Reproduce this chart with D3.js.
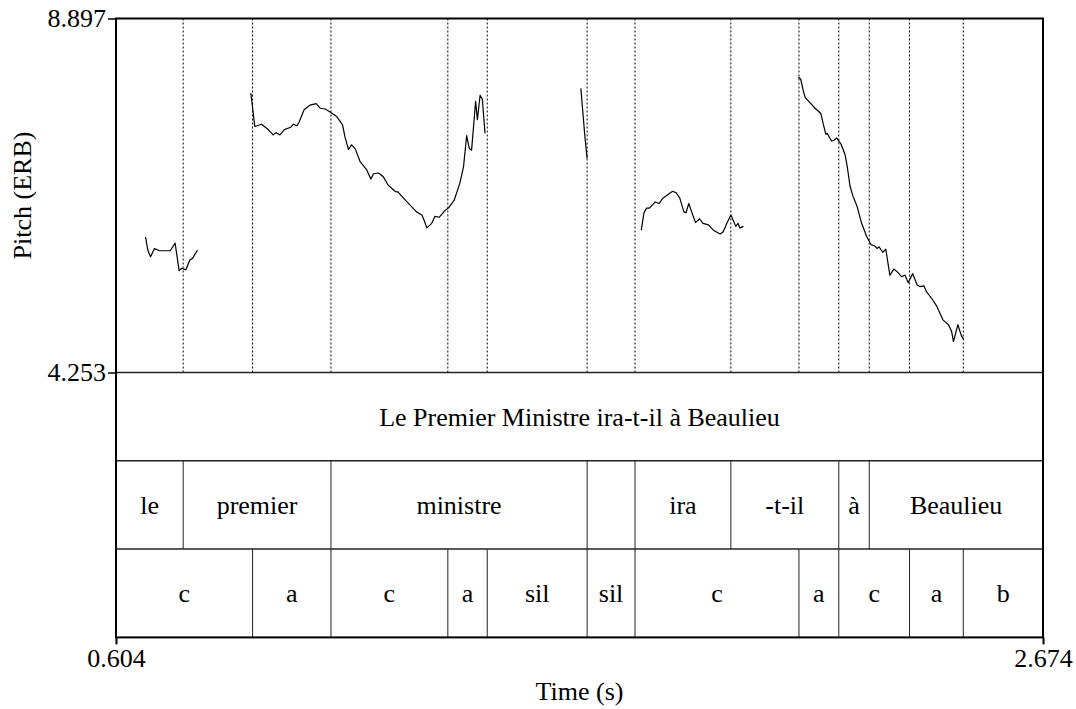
<!DOCTYPE html>
<html>
<head>
<meta charset="utf-8">
<script src="https://cdn.jsdelivr.net/npm/d3@7"></script>
<style>
  body { margin: 0; background: #fff; }
  text { font-family: "Liberation Serif", "Times New Roman", serif; fill: #000; }
</style>
</head>
<body>
<div id="chart"></div>
<script>
// time axis and pitch axis limits
var timeRange = [0.604, 2.674];
var pitchRange = [4.253, 8.897];

// pitch contour (ERB), one array per voiced stretch: [time, pitch]
var seg1 = [[0.670,6.03],[0.675,5.86],[0.681,5.77],[0.690,5.88],[0.701,5.85],[0.725,5.85],
  [0.736,5.95],[0.745,5.59],[0.751,5.62],[0.760,5.60],[0.769,5.73],[0.775,5.75],[0.786,5.86]];
var seg2 = [[0.905,7.92],[0.914,7.48],[0.929,7.51],[0.944,7.44],[0.955,7.37],[0.961,7.40],
  [0.970,7.37],[0.980,7.44],[0.994,7.47],[1.000,7.51],[1.008,7.49],[1.013,7.54],[1.024,7.70],
  [1.037,7.76],[1.051,7.78],[1.060,7.72],[1.071,7.71],[1.082,7.67],[1.097,7.61],[1.110,7.50],
  [1.115,7.35],[1.123,7.18],[1.130,7.24],[1.138,7.19],[1.149,7.02],[1.164,6.91],[1.173,6.79],
  [1.179,6.86],[1.190,6.87],[1.201,6.82],[1.212,6.71],[1.227,6.63],[1.234,6.62],[1.249,6.52],
  [1.264,6.43],[1.275,6.36],[1.287,6.32],[1.292,6.25],[1.298,6.15],[1.309,6.21],[1.316,6.30],
  [1.326,6.29],[1.339,6.38],[1.346,6.41],[1.359,6.51],[1.372,6.74],[1.380,6.95],[1.387,7.36],
  [1.393,7.19],[1.398,7.17],[1.407,7.81],[1.411,7.57],[1.417,7.89],[1.422,7.84],[1.428,7.39]];
var seg3 = [[1.642,7.98],[1.651,7.35],[1.656,7.06]];
var seg4 = [[1.777,6.12],[1.783,6.35],[1.789,6.41],[1.795,6.41],[1.808,6.49],[1.817,6.47],
  [1.825,6.54],[1.835,6.58],[1.847,6.63],[1.855,6.61],[1.863,6.54],[1.872,6.36],[1.877,6.35],
  [1.883,6.47],[1.890,6.35],[1.898,6.22],[1.907,6.27],[1.915,6.21],[1.927,6.19],[1.938,6.12],
  [1.953,6.07],[1.960,6.10],[1.968,6.21],[1.977,6.32],[1.988,6.17],[1.993,6.21],[1.997,6.15],
  [2.005,6.17]];
var seg5 = [[2.128,8.13],[2.133,8.10],[2.139,7.94],[2.143,7.86],[2.154,7.79],[2.165,7.72],
  [2.178,7.65],[2.183,7.52],[2.189,7.38],[2.192,7.39],[2.202,7.29],[2.207,7.30],[2.213,7.33],
  [2.223,7.25],[2.232,7.11],[2.237,6.95],[2.243,6.70],[2.250,6.56],[2.259,6.43],[2.269,6.21],
  [2.280,6.04],[2.290,5.93],[2.299,5.91],[2.303,5.88],[2.308,5.90],[2.316,5.83],[2.323,5.87],
  [2.332,5.53],[2.341,5.61],[2.351,5.56],[2.358,5.51],[2.366,5.53],[2.373,5.43],[2.383,5.55],
  [2.393,5.40],[2.399,5.38],[2.408,5.39],[2.414,5.31],[2.425,5.23],[2.437,5.12],[2.451,4.94],
  [2.463,4.88],[2.470,4.79],[2.474,4.66],[2.484,4.88],[2.492,4.73],[2.497,4.69]];
var pitchSegments = [seg1, seg2, seg3, seg4, seg5];

// text tiers
var sentenceLabel = "Le Premier Ministre ira-t-il à Beaulieu";
var wordBounds = [0.604, 0.754, 1.084, 1.656, 1.763, 1.977, 2.218, 2.286, 2.674];
var wordLabels = ["le", "premier", "ministre", "", "ira", "-t-il", "à", "Beaulieu"];
var syllBounds = [0.604, 0.909, 1.084, 1.345, 1.433, 1.656, 1.763, 2.129, 2.218, 2.376, 2.496, 2.674];
var syllLabels = ["c", "a", "c", "a", "sil", "sil", "c", "a", "c", "a", "b"];

var W = 1076, H = 709;
var plotLeft = 116, plotRight = 1043, plotTop = 18.5, pitchBottom = 372.5;
var tierH = 88.3;
var plotBottom = pitchBottom + 3 * tierH;

var svg = d3.select("#chart").append("svg")
  .attr("width", W).attr("height", H);

var x = d3.scaleLinear().domain(timeRange).range([plotLeft, plotRight]);
var y = d3.scaleLinear().domain(pitchRange).range([pitchBottom, plotTop]);

// all boundaries (union of both interval tiers), dotted over the pitch area
var allBounds = Array.from(new Set(wordBounds.slice(1, -1).concat(syllBounds.slice(1, -1)))).sort(d3.ascending);
svg.append("g").selectAll("line").data(allBounds).enter().append("line")
  .attr("x1", d => x(d)).attr("x2", d => x(d))
  .attr("y1", plotTop).attr("y2", pitchBottom)
  .attr("stroke", "#000").attr("stroke-width", 1)
  .attr("stroke-dasharray", "2,2");

// pitch contour
var line = d3.line().x(d => x(d[0])).y(d => y(d[1]));
svg.append("g").selectAll("path").data(pitchSegments).enter().append("path")
  .attr("d", line)
  .attr("fill", "none").attr("stroke", "#000").attr("stroke-width", 1.2)
  .attr("stroke-linejoin", "round");

// tiers
function drawTier(bounds, labels, y0) {
  var g = svg.append("g");
  g.selectAll("line").data(bounds.slice(1, -1)).enter().append("line")
    .attr("x1", d => x(d)).attr("x2", d => x(d))
    .attr("y1", y0).attr("y2", y0 + tierH)
    .attr("stroke", "#222").attr("stroke-width", 1);
  g.selectAll("text").data(labels).enter().append("text")
    .attr("x", (d, i) => (x(bounds[i]) + x(bounds[i + 1])) / 2)
    .attr("y", y0 + tierH / 2)
    .attr("dy", "0.35em")
    .attr("text-anchor", "middle")
    .attr("font-size", "26px")
    .text(d => d);
}
svg.append("text")
  .attr("x", (plotLeft + plotRight) / 2).attr("y", pitchBottom + tierH / 2).attr("dy", "0.35em")
  .attr("text-anchor", "middle").attr("font-size", "26px")
  .text(sentenceLabel);
drawTier(wordBounds, wordLabels, pitchBottom + tierH);
drawTier(syllBounds, syllLabels, pitchBottom + 2 * tierH);

// tier separators
[pitchBottom, pitchBottom + tierH, pitchBottom + 2 * tierH].forEach(function(v) {
  svg.append("line").attr("x1", plotLeft).attr("x2", plotRight).attr("y1", v).attr("y2", v)
    .attr("stroke", "#222").attr("stroke-width", 1.5);
});

// frame
svg.append("rect")
  .attr("x", plotLeft).attr("y", plotTop).attr("width", plotRight - plotLeft).attr("height", plotBottom - plotTop)
  .attr("fill", "none").attr("stroke", "#000").attr("stroke-width", 2);

// y axis ticks
var yAxis = d3.axisLeft(y).tickValues(pitchRange).tickFormat(d3.format(".3f")).tickSize(8).tickPadding(2);
var gy = svg.append("g").attr("transform", "translate(" + plotLeft + ",0)").call(yAxis);
gy.select(".domain").remove();
gy.selectAll("text").attr("font-size", "26px").attr("font-family", "Liberation Serif").attr("dy", "0.32em");
gy.selectAll("line").attr("stroke-width", 1.5);

// x axis ticks
var xAxis = d3.axisBottom(x).tickValues(timeRange).tickFormat(d3.format(".3f")).tickSize(7).tickPadding(4);
var gx = svg.append("g").attr("transform", "translate(0," + plotBottom + ")").call(xAxis);
gx.select(".domain").remove();
gx.selectAll("text").attr("font-size", "26px").attr("font-family", "Liberation Serif");
gx.selectAll("line").attr("stroke-width", 2);

// axis titles
svg.append("text")
  .attr("x", (plotLeft + plotRight) / 2).attr("y", 700)
  .attr("text-anchor", "middle").attr("font-size", "26px")
  .text("Time (s)");
svg.append("text")
  .attr("transform", "translate(31," + ((plotTop + pitchBottom) / 2) + ") rotate(-90)")
  .attr("text-anchor", "middle").attr("font-size", "26px")
  .text("Pitch (ERB)");
</script>
</body>
</html>
